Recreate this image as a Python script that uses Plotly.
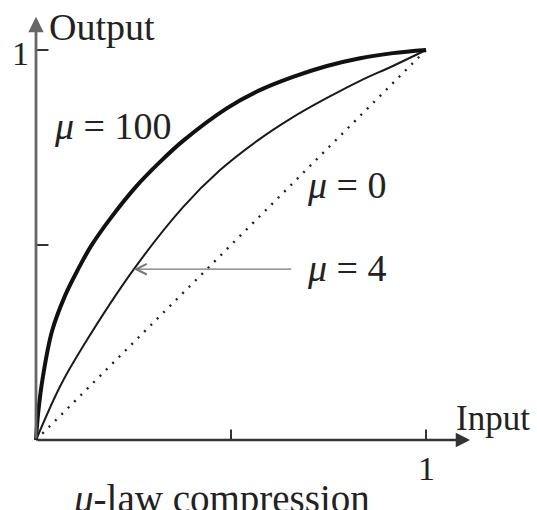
import plotly.graph_objects as go

# values (input / output, both 0..1)
x_mu100 = [0, 0.005, 0.018, 0.041, 0.074, 0.108, 0.141, 0.190, 0.256, 0.318, 0.377, 0.490, 0.574, 0.659, 0.746, 0.831, 0.915, 1.0]
y_mu100 = [0, 0.064, 0.164, 0.279, 0.369, 0.438, 0.497, 0.567, 0.649, 0.713, 0.767, 0.851, 0.897, 0.931, 0.959, 0.979, 0.992, 1.0]
x_mu4 = [0, 0.062, 0.123, 0.251, 0.377, 0.472, 0.567, 0.656, 0.746, 0.831, 0.915, 1.0]
y_mu4 = [0, 0.138, 0.244, 0.438, 0.597, 0.692, 0.767, 0.826, 0.877, 0.921, 0.959, 1.0]
x_mu0 = [0, 1.0]
y_mu0 = [0, 1.0]
tick_vals = [0.5, 1.0]
tick_labels = ["", "1"]
arrow_target = (0.251, 0.438)   # point on the mu = 4 curve the arrow points at

FONT = "Liberation Serif"
TXT = "#222"
fig = go.Figure()
fig.add_trace(go.Scatter(x=x_mu0, y=y_mu0, mode="lines", line=dict(color="#222", width=2.4, dash="2px,7px"), hoverinfo="skip"))
fig.add_trace(go.Scatter(x=x_mu4, y=y_mu4, mode="lines", line=dict(color="#1a1a1a", width=2, shape="spline", smoothing=1.0), hoverinfo="skip"))
fig.add_trace(go.Scatter(x=x_mu100, y=y_mu100, mode="lines", line=dict(color="#111", width=4, shape="spline", smoothing=1.0), hoverinfo="skip"))

ann = []
# axes with arrows
ann.append(dict(x=1.113, y=0, ax=0, ay=0, xref="x", yref="y", axref="x", ayref="y", text="",
                showarrow=True, arrowhead=2, arrowsize=1.1, arrowwidth=2.6, arrowcolor="#333"))
ann.append(dict(x=0, y=1.085, ax=0, ay=0, xref="x", yref="y", axref="x", ayref="y", text="",
                showarrow=True, arrowhead=2, arrowsize=1.1, arrowwidth=2.8, arrowcolor="#666"))
# tick labels
for v, t in zip(tick_vals, tick_labels):
    if t:
        ann.append(dict(x=v, y=0, xref="x", yref="y", text=t, showarrow=False, yanchor="top", yshift=-8,
                        font=dict(family=FONT, size=34, color=TXT)))
        ann.append(dict(x=0, y=v, xref="x", yref="y", text=t, showarrow=False, xanchor="right", xshift=-5,
                        yshift=-3, font=dict(family=FONT, size=34, color=TXT)))
ann.append(dict(x=0.028, y=1.06, xref="x", yref="y", text="Output", showarrow=False, xanchor="left",
                yanchor="middle", font=dict(family=FONT, size=38, color=TXT)))
ann.append(dict(x=1.072, y=0.055, xref="x", yref="y", text="Input", showarrow=False, xanchor="left",
                yanchor="middle", font=dict(family=FONT, size=35, color=TXT)))
ann.append(dict(x=0.09, y=-0.15, xref="x", yref="y", text="<i>μ</i>-law compression", showarrow=False,
                xanchor="left", yanchor="middle", font=dict(family=FONT, size=39, color=TXT)))
ann.append(dict(x=0.04, y=0.805, xref="x", yref="y", text="<i>μ</i> = 100", showarrow=False,
                xanchor="left", yanchor="middle", font=dict(family=FONT, size=38, color=TXT)))
ann.append(dict(x=0.69, y=0.653, xref="x", yref="y", text="<i>μ</i> = 0", showarrow=False,
                xanchor="left", yanchor="middle", font=dict(family=FONT, size=38, color=TXT)))
ann.append(dict(x=0.69, y=0.44, xref="x", yref="y", text="<i>μ</i> = 4", showarrow=False,
                xanchor="left", yanchor="middle", font=dict(family=FONT, size=38, color=TXT)))
ann.append(dict(x=arrow_target[0], y=arrow_target[1], ax=0.658, ay=arrow_target[1], xref="x", yref="y",
                axref="x", ayref="y", text="", showarrow=True, arrowhead=5, arrowsize=1.6,
                arrowwidth=1.3, arrowcolor="#777"))

shapes = []
for v in tick_vals:
    shapes.append(dict(type="line", xref="x", yref="y", x0=v, x1=v, y0=0, y1=0.027, line=dict(color="#333", width=2)))
    shapes.append(dict(type="line", xref="x", yref="y", x0=0, x1=0.032, y0=v, y1=v, line=dict(color="#333", width=2)))

fig.update_layout(
    width=537, height=510, margin=dict(l=0, r=0, t=0, b=0),
    paper_bgcolor="white", plot_bgcolor="white", showlegend=False,
    xaxis=dict(range=[-36/390, 501/390], visible=False, fixedrange=True),
    yaxis=dict(range=[-70/390, 440/390], visible=False, fixedrange=True),
    annotations=ann, shapes=shapes,
)
fig.write_html("out.html", config={"displayModeBar": False, "staticPlot": True},
               post_script="document.body.style.margin='0';document.body.style.overflow='hidden';")
